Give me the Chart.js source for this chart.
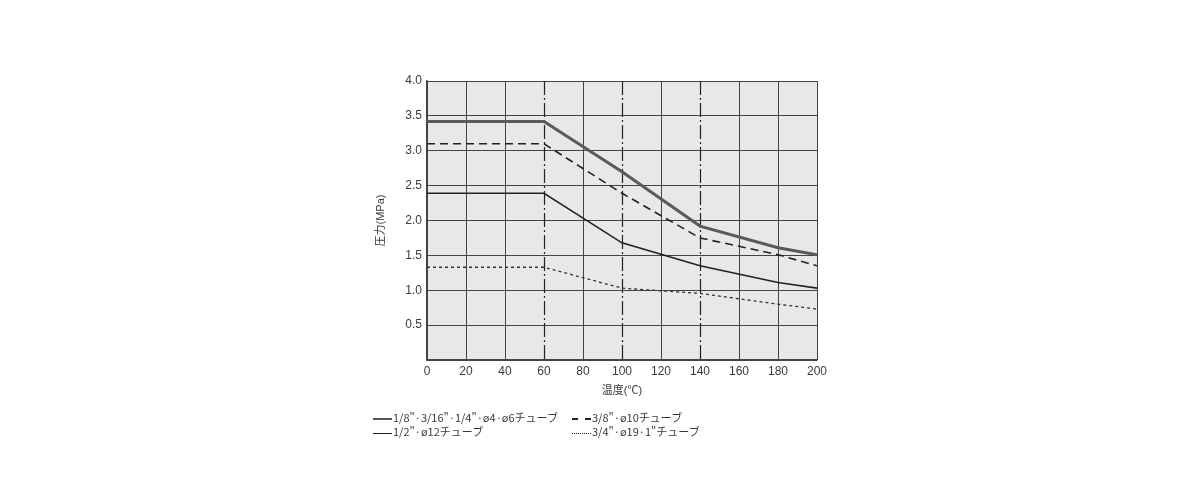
<!DOCTYPE html>
<html lang="ja">
<head>
  <meta charset="UTF-8">
  <title>圧力-温度特性</title>
  <script src="https://cdn.jsdelivr.net/npm/chart.js"></script>
  <style>
    body, html {
      margin: 0;
      background: #fff;
      font-family: 'Liberation Sans', 'Noto Sans CJK JP', sans-serif;
      color: #3a3a3a;
    }
    .wrap {
      position: relative;
      width: 1198px;
      height: 500px;
    }
    .legend {
      position: absolute;
      font-family: 'Noto Sans CJK JP', sans-serif;
      font-size: 11px;
      line-height: 14px;
      white-space: nowrap;
    }
    .legend span.mark {
      display: inline-block;
      width: 19px;
      height: 0;
      vertical-align: middle;
      margin-right: 1px;
    }
  </style>
</head>
<body>
  <div class="wrap">
    <canvas id="chart"></canvas>
    <div class="legend" style="left:373px; top:410px;"><span class="mark" style="border-top:2px solid #555;"></span>1/8"·3/16"·1/4"·ø4·ø6チューブ</div>
    <div class="legend" style="left:373px; top:424px;"><span class="mark" style="border-top:1.5px solid #222;"></span>1/2"·ø12チューブ</div>
    <div class="legend" style="left:572px; top:410px;"><span class="mark" style="border-top:2px dashed #222;"></span>3/8"·ø10チューブ</div>
    <div class="legend" style="left:572px; top:424px;"><span class="mark" style="border-top:1.5px dotted #222;"></span>3/4"·ø19·1"チューブ</div>
  </div>

  <script>
    // 温度 (℃)
    const temps = [0, 60, 100, 140, 180, 200];
    // 圧力 (MPa)
    const smallTube = [3.42, 3.42, 2.70, 1.92, 1.61, 1.51];   // 1/8"·3/16"·1/4"·ø4·ø6
    const tube10 = [3.10, 3.10, 2.39, 1.75, 1.51, 1.35];      // 3/8"·ø10
    const tube12 = [2.39, 2.39, 1.68, 1.35, 1.11, 1.03];      // 1/2"·ø12
    const tube19 = [1.33, 1.33, 1.03, 0.955, 0.80, 0.73];     // 3/4"·ø19·1"
    const dashDotAt = [60, 100, 140];

    const pts = arr => arr.map((v, i) => ({ x: temps[i], y: v }));
    const gridColor = '#444';
    const textColor = '#3a3a3a';
    const font = { family: "'Liberation Sans', 'Noto Sans CJK JP', sans-serif", size: 12 };

    const bgPlugin = {
      id: 'bg',
      beforeDraw(chart) {
        const { ctx, chartArea: a } = chart;
        ctx.save();
        ctx.fillStyle = '#e8e8e8';
        ctx.fillRect(a.left, a.top, a.right - a.left, a.bottom - a.top);
        ctx.restore();
      },
      beforeDatasetsDraw(chart) {
        const { ctx, chartArea: a, scales } = chart;
        ctx.save();
        ctx.strokeStyle = '#222';
        ctx.lineWidth = 1.2;
        ctx.setLineDash([14, 3, 2, 3]);
        dashDotAt.forEach(v => {
          const x = Math.round(scales.x.getPixelForValue(v)) + 0.5;
          ctx.beginPath();
          ctx.moveTo(x, a.top);
          ctx.lineTo(x, a.bottom);
          ctx.stroke();
        });
        ctx.restore();
      }
    };

    new Chart(document.getElementById('chart'), {
      type: 'line',
      data: {
        datasets: [
          { label: '1/8"·3/16"·1/4"·ø4·ø6チューブ', data: pts(smallTube), borderColor: '#5a5a5a', borderWidth: 3 },
          { label: '3/8"·ø10チューブ', data: pts(tube10), borderColor: '#222', borderWidth: 1.6, borderDash: [8, 5] },
          { label: '1/2"·ø12チューブ', data: pts(tube12), borderColor: '#222', borderWidth: 1.6 },
          { label: '3/4"·ø19·1"チューブ', data: pts(tube19), borderColor: '#333', borderWidth: 1.3, borderDash: [3, 3] }
        ]
      },
      options: {
        responsive: true,
        maintainAspectRatio: false,
        animation: false,
        elements: { point: { radius: 0 }, line: { tension: 0, fill: false } },
        layout: { padding: { left: 360, top: 81, right: 381, bottom: 100 } },
        plugins: { legend: { display: false }, tooltip: { enabled: false } },
        scales: {
          x: {
            type: 'linear',
            min: 0, max: 200,
            afterFit: s => { s.height = 40; },
            ticks: { stepSize: 20, color: textColor, font, padding: 4, maxRotation: 0 },
            grid: {
              drawTicks: false,
              color: ctx => dashDotAt.includes(ctx.tick && ctx.tick.value) ? 'rgba(0,0,0,0)' : gridColor,
              lineWidth: 1
            },
            border: { color: gridColor, width: 1.5 },
            title: { display: true, text: '温度(℃)', color: textColor, font: { ...font, size: 11 }, padding: { top: 0, bottom: 2 } }
          },
          y: {
            min: 0, max: 4,
            afterFit: s => { s.width = 67; },
            ticks: {
              stepSize: 0.5, color: textColor, font, padding: 5,
              callback: v => v === 0 ? '' : v.toFixed(1)
            },
            grid: { drawTicks: false, color: gridColor, lineWidth: 1 },
            border: { color: gridColor, width: 1.5 },
            title: { display: true, text: '圧力(MPa)', color: textColor, font: { ...font, size: 11 }, padding: { top: 14, bottom: 0 } }
          }
        }
      },
      plugins: [bgPlugin]
    });
  </script>
</body>
</html>
